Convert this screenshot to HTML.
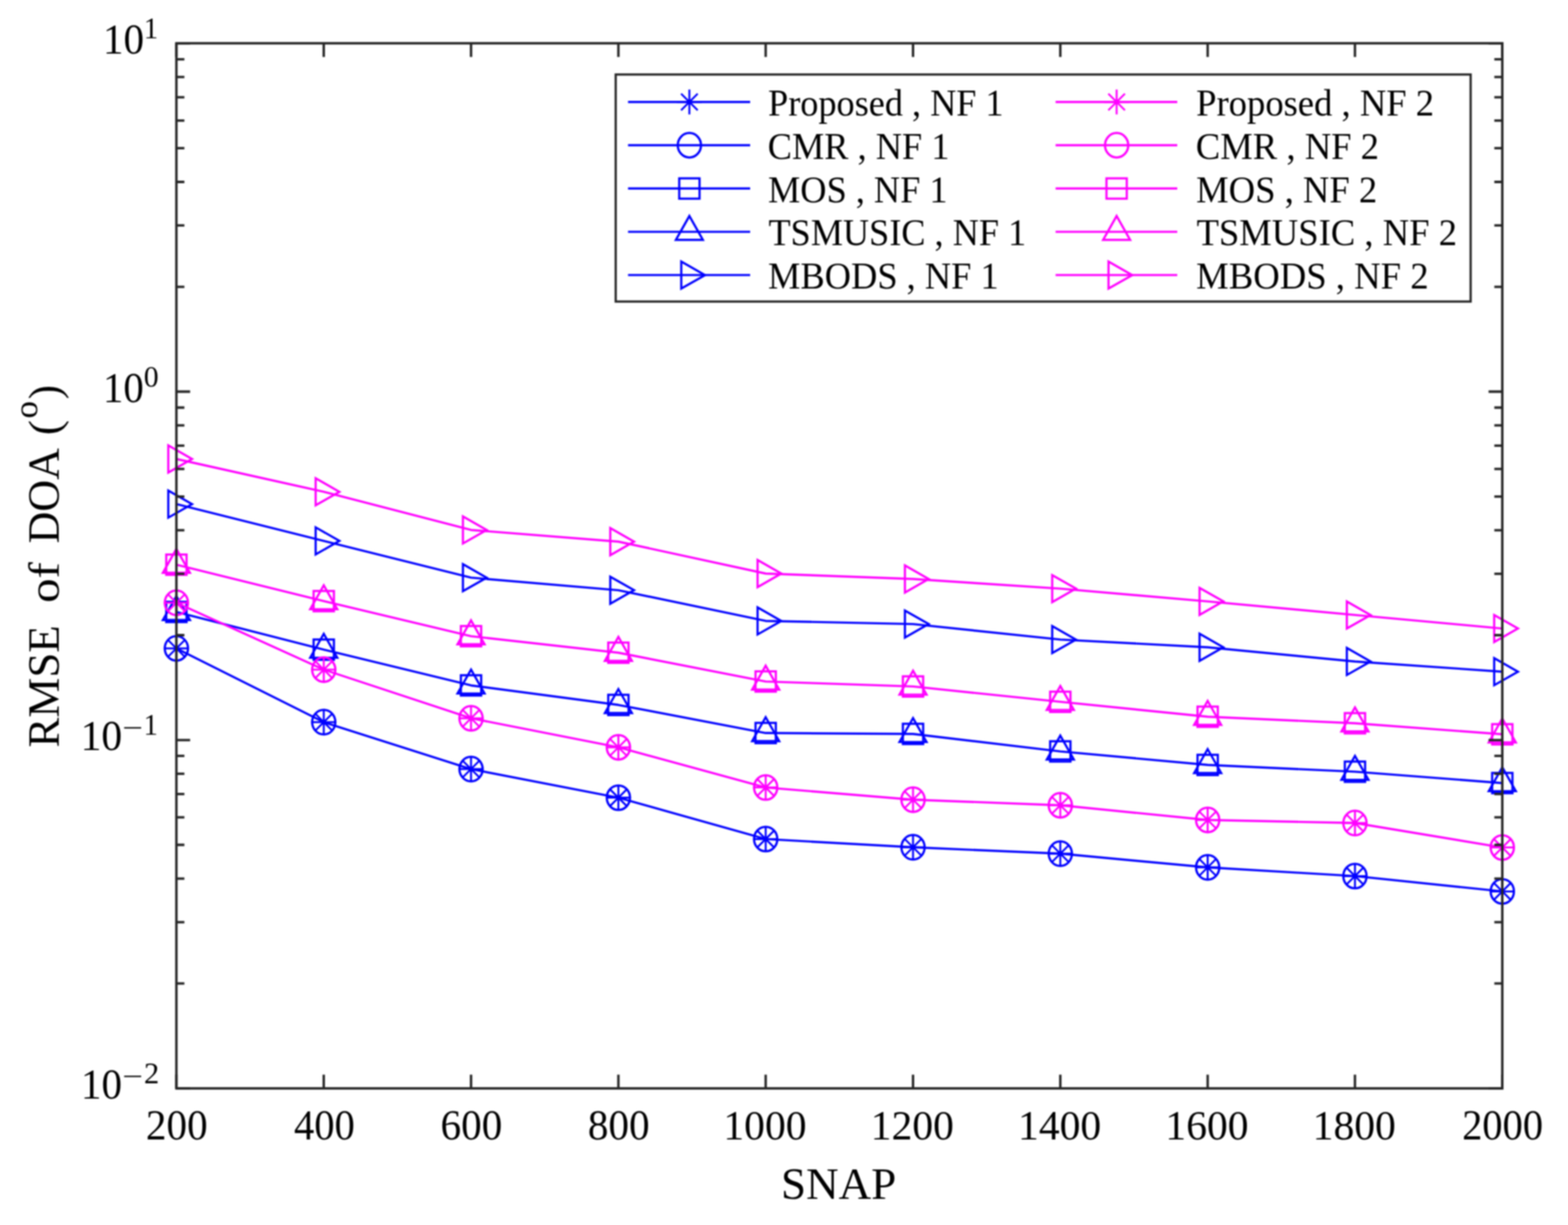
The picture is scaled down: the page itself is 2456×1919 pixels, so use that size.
<!DOCTYPE html>
<html><head><meta charset="utf-8"><title>RMSE of DOA vs SNAP</title><style>html,body{margin:0;padding:0;background:#fff;overflow:hidden;width:2456px;height:1919px}svg{display:block}</style></head><body>
<svg width="2456" height="1919" viewBox="0 0 2456 1919">
<rect width="2456" height="1919" fill="#fff"/>
<defs><filter id="soft" color-interpolation-filters="sRGB" x="0" y="0" width="2456" height="1919" filterUnits="userSpaceOnUse"><feGaussianBlur stdDeviation="0.8"/></filter></defs>
<g filter="url(#soft)">
<rect width="2456" height="1919" fill="#fff"/>
<polyline points="276.3,1015.7 507.1,1131.3 737.8,1204.8 968.6,1249.6 1199.3,1314.4 1430.1,1327.3 1660.8,1337.3 1891.6,1358.8 2122.3,1372.4 2353.1,1396.4" fill="none" stroke="#0000ff" stroke-width="3.4" stroke-linejoin="round"/>
<g fill="none" stroke="#0000ff" stroke-width="3.4" stroke-miterlimit="4">
<path d="M256.8 1015.7H295.8M276.3 996.2V1035.2M263.3 1002.7L289.3 1028.7M263.3 1028.7L289.3 1002.7" stroke-width="3.0"/>
<path d="M487.6 1131.3H526.6M507.1 1111.8V1150.8M494.1 1118.3L520.1 1144.3M494.1 1144.3L520.1 1118.3" stroke-width="3.0"/>
<path d="M718.3 1204.8H757.3M737.8 1185.3V1224.3M724.8 1191.8L750.8 1217.8M724.8 1217.8L750.8 1191.8" stroke-width="3.0"/>
<path d="M949.1 1249.6H988.1M968.6 1230.1V1269.1M955.6 1236.6L981.6 1262.6M955.6 1262.6L981.6 1236.6" stroke-width="3.0"/>
<path d="M1179.8 1314.4H1218.8M1199.3 1294.9V1333.9M1186.3 1301.4L1212.3 1327.4M1186.3 1327.4L1212.3 1301.4" stroke-width="3.0"/>
<path d="M1410.6 1327.3H1449.6M1430.1 1307.8V1346.8M1417.1 1314.3L1443.1 1340.3M1417.1 1340.3L1443.1 1314.3" stroke-width="3.0"/>
<path d="M1641.3 1337.3H1680.3M1660.8 1317.8V1356.8M1647.8 1324.3L1673.8 1350.3M1647.8 1350.3L1673.8 1324.3" stroke-width="3.0"/>
<path d="M1872.1 1358.8H1911.1M1891.6 1339.3V1378.3M1878.6 1345.8L1904.6 1371.8M1878.6 1371.8L1904.6 1345.8" stroke-width="3.0"/>
<path d="M2102.8 1372.4H2141.8M2122.3 1352.9V1391.9M2109.3 1359.4L2135.3 1385.4M2109.3 1385.4L2135.3 1359.4" stroke-width="3.0"/>
<path d="M2333.6 1396.4H2372.6M2353.1 1376.9V1415.9M2340.1 1383.4L2366.1 1409.4M2340.1 1409.4L2366.1 1383.4" stroke-width="3.0"/>
<ellipse cx="276.3" cy="1015.7" rx="18.2" ry="19.2" stroke-width="3.5"/>
<ellipse cx="507.1" cy="1131.3" rx="18.2" ry="19.2" stroke-width="3.5"/>
<ellipse cx="737.8" cy="1204.8" rx="18.2" ry="19.2" stroke-width="3.5"/>
<ellipse cx="968.6" cy="1249.6" rx="18.2" ry="19.2" stroke-width="3.5"/>
<ellipse cx="1199.3" cy="1314.4" rx="18.2" ry="19.2" stroke-width="3.5"/>
<ellipse cx="1430.1" cy="1327.3" rx="18.2" ry="19.2" stroke-width="3.5"/>
<ellipse cx="1660.8" cy="1337.3" rx="18.2" ry="19.2" stroke-width="3.5"/>
<ellipse cx="1891.6" cy="1358.8" rx="18.2" ry="19.2" stroke-width="3.5"/>
<ellipse cx="2122.3" cy="1372.4" rx="18.2" ry="19.2" stroke-width="3.5"/>
<ellipse cx="2353.1" cy="1396.4" rx="18.2" ry="19.2" stroke-width="3.5"/>
</g>
<polyline points="276.3,958.6 507.1,1017.7 737.8,1073.7 968.6,1104.3 1199.3,1148.3 1430.1,1149.7 1660.8,1177.1 1891.6,1198.3 2122.3,1208.9 2353.1,1226.7" fill="none" stroke="#0000ff" stroke-width="3.4" stroke-linejoin="round"/>
<g fill="none" stroke="#0000ff" stroke-width="3.4" stroke-miterlimit="4">
<rect x="260.4" y="942.7" width="31.8" height="31.8"/>
<rect x="491.2" y="1001.8" width="31.8" height="31.8"/>
<rect x="721.9" y="1057.8" width="31.8" height="31.8"/>
<rect x="952.7" y="1088.4" width="31.8" height="31.8"/>
<rect x="1183.4" y="1132.4" width="31.8" height="31.8"/>
<rect x="1414.2" y="1133.8" width="31.8" height="31.8"/>
<rect x="1644.9" y="1161.2" width="31.8" height="31.8"/>
<rect x="1875.7" y="1182.4" width="31.8" height="31.8"/>
<rect x="2106.4" y="1193.0" width="31.8" height="31.8"/>
<rect x="2337.2" y="1210.8" width="31.8" height="31.8"/>
<path d="M276.3 933.8L297.5 971.3H255.1Z"/>
<path d="M507.1 992.9L528.3 1030.4H485.9Z"/>
<path d="M737.8 1048.9L759.0 1086.4H716.6Z"/>
<path d="M968.6 1079.5L989.8 1117.0H947.4Z"/>
<path d="M1199.3 1123.5L1220.5 1161.0H1178.1Z"/>
<path d="M1430.1 1124.9L1451.3 1162.4H1408.9Z"/>
<path d="M1660.8 1152.3L1682.0 1189.8H1639.6Z"/>
<path d="M1891.6 1173.5L1912.8 1211.0H1870.4Z"/>
<path d="M2122.3 1184.1L2143.5 1221.6H2101.1Z"/>
<path d="M2353.1 1201.9L2374.3 1239.4H2331.9Z"/>
</g>
<polyline points="276.3,789.7 507.1,847.3 737.8,904.9 968.6,924.6 1199.3,972.7 1430.1,977.6 1660.8,1001.9 1891.6,1014.0 2122.3,1036.2 2353.1,1052.2" fill="none" stroke="#0000ff" stroke-width="3.4" stroke-linejoin="round"/>
<g fill="none" stroke="#0000ff" stroke-width="3.4" stroke-miterlimit="4">
<path d="M300.8 789.7L263.6 810.9V768.5Z"/>
<path d="M531.6 847.3L494.4 868.5V826.1Z"/>
<path d="M762.3 904.9L725.1 926.1V883.7Z"/>
<path d="M993.1 924.6L955.9 945.8V903.4Z"/>
<path d="M1223.8 972.7L1186.6 993.9V951.5Z"/>
<path d="M1454.6 977.6L1417.4 998.8V956.4Z"/>
<path d="M1685.3 1001.9L1648.1 1023.1V980.7Z"/>
<path d="M1916.1 1014.0L1878.9 1035.2V992.8Z"/>
<path d="M2146.8 1036.2L2109.6 1057.4V1015.0Z"/>
<path d="M2377.6 1052.2L2340.4 1073.4V1031.0Z"/>
</g>
<polyline points="276.3,944.3 507.1,1049.0 737.8,1125.2 968.6,1170.7 1199.3,1233.6 1430.1,1252.7 1660.8,1261.5 1891.6,1284.5 2122.3,1289.3 2353.1,1327.6" fill="none" stroke="#ff00ff" stroke-width="3.4" stroke-linejoin="round"/>
<g fill="none" stroke="#ff00ff" stroke-width="3.4" stroke-miterlimit="4">
<path d="M256.8 944.3H295.8M276.3 924.8V963.8M263.3 931.3L289.3 957.3M263.3 957.3L289.3 931.3" stroke-width="3.0"/>
<path d="M487.6 1049.0H526.6M507.1 1029.5V1068.5M494.1 1036.0L520.1 1062.0M494.1 1062.0L520.1 1036.0" stroke-width="3.0"/>
<path d="M718.3 1125.2H757.3M737.8 1105.7V1144.7M724.8 1112.2L750.8 1138.2M724.8 1138.2L750.8 1112.2" stroke-width="3.0"/>
<path d="M949.1 1170.7H988.1M968.6 1151.2V1190.2M955.6 1157.7L981.6 1183.7M955.6 1183.7L981.6 1157.7" stroke-width="3.0"/>
<path d="M1179.8 1233.6H1218.8M1199.3 1214.1V1253.1M1186.3 1220.6L1212.3 1246.6M1186.3 1246.6L1212.3 1220.6" stroke-width="3.0"/>
<path d="M1410.6 1252.7H1449.6M1430.1 1233.2V1272.2M1417.1 1239.7L1443.1 1265.7M1417.1 1265.7L1443.1 1239.7" stroke-width="3.0"/>
<path d="M1641.3 1261.5H1680.3M1660.8 1242.0V1281.0M1647.8 1248.5L1673.8 1274.5M1647.8 1274.5L1673.8 1248.5" stroke-width="3.0"/>
<path d="M1872.1 1284.5H1911.1M1891.6 1265.0V1304.0M1878.6 1271.5L1904.6 1297.5M1878.6 1297.5L1904.6 1271.5" stroke-width="3.0"/>
<path d="M2102.8 1289.3H2141.8M2122.3 1269.8V1308.8M2109.3 1276.3L2135.3 1302.3M2109.3 1302.3L2135.3 1276.3" stroke-width="3.0"/>
<path d="M2333.6 1327.6H2372.6M2353.1 1308.1V1347.1M2340.1 1314.6L2366.1 1340.6M2340.1 1340.6L2366.1 1314.6" stroke-width="3.0"/>
<ellipse cx="276.3" cy="944.3" rx="18.2" ry="19.2" stroke-width="3.5"/>
<ellipse cx="507.1" cy="1049.0" rx="18.2" ry="19.2" stroke-width="3.5"/>
<ellipse cx="737.8" cy="1125.2" rx="18.2" ry="19.2" stroke-width="3.5"/>
<ellipse cx="968.6" cy="1170.7" rx="18.2" ry="19.2" stroke-width="3.5"/>
<ellipse cx="1199.3" cy="1233.6" rx="18.2" ry="19.2" stroke-width="3.5"/>
<ellipse cx="1430.1" cy="1252.7" rx="18.2" ry="19.2" stroke-width="3.5"/>
<ellipse cx="1660.8" cy="1261.5" rx="18.2" ry="19.2" stroke-width="3.5"/>
<ellipse cx="1891.6" cy="1284.5" rx="18.2" ry="19.2" stroke-width="3.5"/>
<ellipse cx="2122.3" cy="1289.3" rx="18.2" ry="19.2" stroke-width="3.5"/>
<ellipse cx="2353.1" cy="1327.6" rx="18.2" ry="19.2" stroke-width="3.5"/>
</g>
<polyline points="276.3,884.6 507.1,941.7 737.8,996.6 968.6,1022.5 1199.3,1067.6 1430.1,1075.4 1660.8,1099.4 1891.6,1122.8 2122.3,1133.0 2353.1,1150.3" fill="none" stroke="#ff00ff" stroke-width="3.4" stroke-linejoin="round"/>
<g fill="none" stroke="#ff00ff" stroke-width="3.4" stroke-miterlimit="4">
<rect x="260.4" y="868.7" width="31.8" height="31.8"/>
<rect x="491.2" y="925.8" width="31.8" height="31.8"/>
<rect x="721.9" y="980.7" width="31.8" height="31.8"/>
<rect x="952.7" y="1006.6" width="31.8" height="31.8"/>
<rect x="1183.4" y="1051.7" width="31.8" height="31.8"/>
<rect x="1414.2" y="1059.5" width="31.8" height="31.8"/>
<rect x="1644.9" y="1083.5" width="31.8" height="31.8"/>
<rect x="1875.7" y="1106.9" width="31.8" height="31.8"/>
<rect x="2106.4" y="1117.1" width="31.8" height="31.8"/>
<rect x="2337.2" y="1134.4" width="31.8" height="31.8"/>
<path d="M276.3 859.8L297.5 897.3H255.1Z"/>
<path d="M507.1 916.9L528.3 954.4H485.9Z"/>
<path d="M737.8 971.8L759.0 1009.3H716.6Z"/>
<path d="M968.6 997.7L989.8 1035.2H947.4Z"/>
<path d="M1199.3 1042.8L1220.5 1080.3H1178.1Z"/>
<path d="M1430.1 1050.6L1451.3 1088.1H1408.9Z"/>
<path d="M1660.8 1074.6L1682.0 1112.1H1639.6Z"/>
<path d="M1891.6 1098.0L1912.8 1135.5H1870.4Z"/>
<path d="M2122.3 1108.2L2143.5 1145.7H2101.1Z"/>
<path d="M2353.1 1125.5L2374.3 1163.0H2331.9Z"/>
</g>
<polyline points="276.3,719.0 507.1,770.4 737.8,830.2 968.6,848.5 1199.3,898.5 1430.1,907.0 1660.8,922.1 1891.6,942.1 2122.3,963.4 2353.1,984.6" fill="none" stroke="#ff00ff" stroke-width="3.4" stroke-linejoin="round"/>
<g fill="none" stroke="#ff00ff" stroke-width="3.4" stroke-miterlimit="4">
<path d="M300.8 719.0L263.6 740.2V697.8Z"/>
<path d="M531.6 770.4L494.4 791.6V749.2Z"/>
<path d="M762.3 830.2L725.1 851.4V809.0Z"/>
<path d="M993.1 848.5L955.9 869.7V827.3Z"/>
<path d="M1223.8 898.5L1186.6 919.7V877.3Z"/>
<path d="M1454.6 907.0L1417.4 928.2V885.8Z"/>
<path d="M1685.3 922.1L1648.1 943.3V900.9Z"/>
<path d="M1916.1 942.1L1878.9 963.3V920.9Z"/>
<path d="M2146.8 963.4L2109.6 984.6V942.2Z"/>
<path d="M2377.6 984.6L2340.4 1005.8V963.4Z"/>
</g>
<rect x="276.3" y="67.8" width="2076.8" height="1637.2" fill="none" stroke="#262626" stroke-width="3.8"/>
<path d="M276.3 1705.0v-21.5M276.3 67.8v21.5M507.1 1705.0v-21.5M507.1 67.8v21.5M737.8 1705.0v-21.5M737.8 67.8v21.5M968.6 1705.0v-21.5M968.6 67.8v21.5M1199.3 1705.0v-21.5M1199.3 67.8v21.5M1430.1 1705.0v-21.5M1430.1 67.8v21.5M1660.8 1705.0v-21.5M1660.8 67.8v21.5M1891.6 1705.0v-21.5M1891.6 67.8v21.5M2122.3 1705.0v-21.5M2122.3 67.8v21.5M2353.1 1705.0v-21.5M2353.1 67.8v21.5M276.3 67.8h21.5M2353.1 67.8h-21.5M276.3 613.5h21.5M2353.1 613.5h-21.5M276.3 1159.3h21.5M2353.1 1159.3h-21.5M276.3 1705.0h21.5M2353.1 1705.0h-21.5M276.3 449.3h12.5M2353.1 449.3h-12.5M276.3 353.2h12.5M2353.1 353.2h-12.5M276.3 285.0h12.5M2353.1 285.0h-12.5M276.3 232.1h12.5M2353.1 232.1h-12.5M276.3 188.9h12.5M2353.1 188.9h-12.5M276.3 152.3h12.5M2353.1 152.3h-12.5M276.3 120.7h12.5M2353.1 120.7h-12.5M276.3 92.8h12.5M2353.1 92.8h-12.5M276.3 995.0h12.5M2353.1 995.0h-12.5M276.3 898.9h12.5M2353.1 898.9h-12.5M276.3 830.7h12.5M2353.1 830.7h-12.5M276.3 777.8h12.5M2353.1 777.8h-12.5M276.3 734.6h12.5M2353.1 734.6h-12.5M276.3 698.1h12.5M2353.1 698.1h-12.5M276.3 666.4h12.5M2353.1 666.4h-12.5M276.3 638.5h12.5M2353.1 638.5h-12.5M276.3 1540.7h12.5M2353.1 1540.7h-12.5M276.3 1444.6h12.5M2353.1 1444.6h-12.5M276.3 1376.4h12.5M2353.1 1376.4h-12.5M276.3 1323.5h12.5M2353.1 1323.5h-12.5M276.3 1280.3h12.5M2353.1 1280.3h-12.5M276.3 1243.8h12.5M2353.1 1243.8h-12.5M276.3 1212.2h12.5M2353.1 1212.2h-12.5M276.3 1184.2h12.5M2353.1 1184.2h-12.5" stroke="#262626" stroke-width="3.8" fill="none"/>
<g font-family="Liberation Serif, serif" fill="#000"><text transform="translate(228.42 1784.60) scale(0.9617 1)" font-size="67.08" >200</text><text transform="translate(460.48 1784.60) scale(0.9483 1)" font-size="67.08" >400</text><text transform="translate(689.93 1784.60) scale(0.9617 1)" font-size="67.08" >600</text><text transform="translate(920.69 1784.60) scale(0.9617 1)" font-size="67.08" >800</text><text transform="translate(1133.06 1784.60) scale(0.9860 1)" font-size="66.06" >1000</text><text transform="translate(1363.82 1784.60) scale(0.9860 1)" font-size="66.06" >1200</text><text transform="translate(1594.57 1784.60) scale(0.9860 1)" font-size="66.06" >1400</text><text transform="translate(1825.33 1784.60) scale(0.9860 1)" font-size="66.06" >1600</text><text transform="translate(2056.08 1784.60) scale(0.9860 1)" font-size="66.06" >1800</text><text transform="translate(2290.16 1784.60) scale(0.9457 1)" font-size="67.08" >2000</text></g>
<g font-family="Liberation Serif, serif" fill="#000"><text transform="translate(161.21 83.80) scale(0.9611 1)" font-size="66.97" >10</text><text transform="translate(225.16 59.80) scale(0.9739 1)" font-size="46.06" >1</text><text transform="translate(161.35 629.53) scale(0.9543 1)" font-size="66.97" >10</text><text transform="translate(225.14 605.53) scale(0.9927 1)" font-size="46.77" >0</text><text transform="translate(126.22 1175.27) scale(0.9749 1)" font-size="66.97" >10</text><text transform="translate(224.99 1151.27) scale(0.9677 1)" font-size="46.06" >1</text><text transform="translate(191.84 1154.61) scale(1.3008 1)" font-size="44.0">−</text><text transform="translate(126.71 1721.00) scale(0.9611 1)" font-size="66.97" >10</text><text transform="translate(225.49 1697.00) scale(1.0210 1)" font-size="46.77" >2</text><text transform="translate(191.84 1700.84) scale(1.3008 1)" font-size="44.0">−</text></g>
<g font-family="Liberation Serif, serif" fill="#000"><text transform="translate(1223.25 1878.10) scale(1.0093 1)" font-size="70.00" >SNAP</text></g>
<g transform="rotate(-90)" font-family="Liberation Serif, serif" fill="#000"><text transform="translate(-1171.11 92.30) scale(0.9988 1)" font-size="70.46" >RMSE</text><text transform="translate(-944.57 92.40) scale(1.1490 1)" font-size="66.76" >of</text><text transform="translate(-851.27 92.40) scale(0.9947 1)" font-size="69.24" >DOA</text><text transform="translate(-681.65 93.45) scale(1.0133 1)" font-size="70.22" >(</text><text transform="translate(-625.43 93.45) scale(0.9640 1)" font-size="70.22" >)</text><text transform="translate(-655.48 57.57) scale(1.0263 1)" font-size="53.12" >o</text></g>
<rect x="964.4" y="116.7" width="1339.1" height="355.7" fill="#fff" stroke="#262626" stroke-width="3.5"/>
<path d="M983.7 159.7H1175" stroke="#0000ff" stroke-width="3.4"/>
<g fill="none" stroke="#0000ff" stroke-width="3.4" stroke-miterlimit="4"><path d="M1060.3 159.7H1099.3M1079.8 140.2V179.2M1066.8 146.7L1092.8 172.7M1066.8 172.7L1092.8 146.7" stroke-width="3.0"/></g>
<g font-family="Liberation Serif, serif" fill="#000"><text transform="translate(1203.10 180.90) scale(0.9702 1)" font-size="58.50" >Proposed , NF 1</text></g>
<path d="M983.7 227.5H1175" stroke="#0000ff" stroke-width="3.4"/>
<g fill="none" stroke="#0000ff" stroke-width="3.4" stroke-miterlimit="4"><ellipse cx="1079.8" cy="227.5" rx="18.2" ry="19.2" stroke-width="3.5"/></g>
<g font-family="Liberation Serif, serif" fill="#000"><text transform="translate(1202.52 248.80) scale(0.9730 1)" font-size="58.50" >CMR , NF 1</text></g>
<path d="M983.7 295.3H1175" stroke="#0000ff" stroke-width="3.4"/>
<g fill="none" stroke="#0000ff" stroke-width="3.4" stroke-miterlimit="4"><rect x="1063.9" y="279.4" width="31.8" height="31.8"/></g>
<g font-family="Liberation Serif, serif" fill="#000"><text transform="translate(1203.10 316.50) scale(0.9714 1)" font-size="58.50" >MOS , NF 1</text></g>
<path d="M983.7 363.1H1175" stroke="#0000ff" stroke-width="3.4"/>
<g fill="none" stroke="#0000ff" stroke-width="3.4" stroke-miterlimit="4"><path d="M1079.8 338.3L1101.0 375.8H1058.6Z"/></g>
<g font-family="Liberation Serif, serif" fill="#000"><text transform="translate(1203.66 384.40) scale(0.9702 1)" font-size="58.50" >TSMUSIC , NF 1</text></g>
<path d="M983.7 430.9H1175" stroke="#0000ff" stroke-width="3.4"/>
<g fill="none" stroke="#0000ff" stroke-width="3.4" stroke-miterlimit="4"><path d="M1104.3 430.9L1067.1 452.1V409.7Z"/></g>
<g font-family="Liberation Serif, serif" fill="#000"><text transform="translate(1203.09 452.40) scale(0.9747 1)" font-size="58.50" >MBODS , NF 1</text></g>
<path d="M1653.4 159.7H1844" stroke="#ff00ff" stroke-width="3.4"/>
<g fill="none" stroke="#ff00ff" stroke-width="3.4" stroke-miterlimit="4"><path d="M1729.5 159.7H1768.5M1749.0 140.2V179.2M1736.0 146.7L1762.0 172.7M1736.0 172.7L1762.0 146.7" stroke-width="3.0"/></g>
<g font-family="Liberation Serif, serif" fill="#000"><text transform="translate(1873.58 180.90) scale(0.9803 1)" font-size="58.50" >Proposed , NF 2</text></g>
<path d="M1653.4 227.5H1844" stroke="#ff00ff" stroke-width="3.4"/>
<g fill="none" stroke="#ff00ff" stroke-width="3.4" stroke-miterlimit="4"><ellipse cx="1749.0" cy="227.5" rx="18.2" ry="19.2" stroke-width="3.5"/></g>
<g font-family="Liberation Serif, serif" fill="#000"><text transform="translate(1873.00 248.80) scale(0.9814 1)" font-size="58.50" >CMR , NF 2</text></g>
<path d="M1653.4 295.3H1844" stroke="#ff00ff" stroke-width="3.4"/>
<g fill="none" stroke="#ff00ff" stroke-width="3.4" stroke-miterlimit="4"><rect x="1733.1" y="279.4" width="31.8" height="31.8"/></g>
<g font-family="Liberation Serif, serif" fill="#000"><text transform="translate(1873.58 316.50) scale(0.9799 1)" font-size="58.50" >MOS , NF 2</text></g>
<path d="M1653.4 363.1H1844" stroke="#ff00ff" stroke-width="3.4"/>
<g fill="none" stroke="#ff00ff" stroke-width="3.4" stroke-miterlimit="4"><path d="M1749.0 338.3L1770.2 375.8H1727.8Z"/></g>
<g font-family="Liberation Serif, serif" fill="#000"><text transform="translate(1874.15 384.40) scale(0.9805 1)" font-size="58.50" >TSMUSIC , NF 2</text></g>
<path d="M1653.4 430.9H1844" stroke="#ff00ff" stroke-width="3.4"/>
<g fill="none" stroke="#ff00ff" stroke-width="3.4" stroke-miterlimit="4"><path d="M1773.5 430.9L1736.3 452.1V409.7Z"/></g>
<g font-family="Liberation Serif, serif" fill="#000"><text transform="translate(1873.58 452.40) scale(0.9827 1)" font-size="58.50" >MBODS , NF 2</text></g>
</g>
</svg>
</body></html>
